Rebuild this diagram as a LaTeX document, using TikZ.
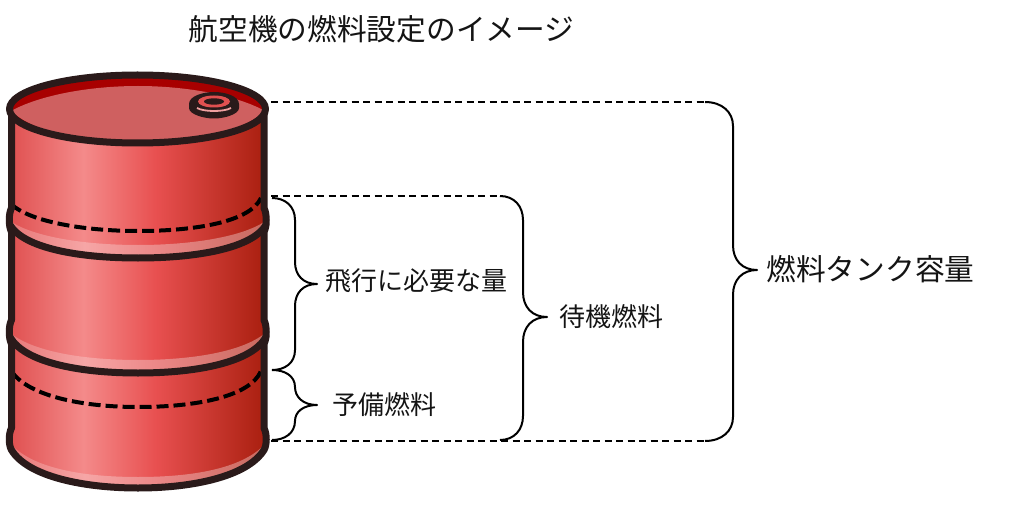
\documentclass[tikz,border=0pt]{standalone}
\usepackage{fontspec}
\newfontfamily\jpfont{Noto Sans CJK JP}
\definecolor{outl}{HTML}{2A1A1A}
\definecolor{facecol}{HTML}{CF6060}
\definecolor{crescent}{HTML}{A80000}
\definecolor{capring}{HTML}{E05050}
\definecolor{capstripe}{HTML}{F0A0A0}
\definecolor{bodyA}{HTML}{DF4F4F}
\definecolor{bodyB}{HTML}{F48A8A}
\definecolor{bodyC}{HTML}{E85050}
\definecolor{bodyD}{HTML}{A81E0E}
\definecolor{bandA}{HTML}{E87878}
\definecolor{bandB}{HTML}{F6A6A6}
\definecolor{bandC}{HTML}{EC8888}
\definecolor{bandD}{HTML}{C86A60}
\pgfdeclarehorizontalshading{barrelbody}{100bp}{
 color(0bp)=(bodyA); color(25bp)=(bodyA); color(39.5bp)=(bodyB);
 color(53.5bp)=(bodyC); color(75bp)=(bodyD); color(100bp)=(bodyD)}
\pgfdeclarehorizontalshading{barrelband}{100bp}{
 color(0bp)=(bandA); color(25bp)=(bandA); color(39.5bp)=(bandB);
 color(53.5bp)=(bandC); color(75bp)=(bandD); color(100bp)=(bandD)}
\tikzset{
 outline/.style={draw=outl,line width=7pt,line join=round,line cap=round},
 levelline/.style={draw=black,line width=4pt,dash pattern=on 12pt off 5pt},
 leader/.style={draw=black,line width=1.8pt,dash pattern=on 7pt off 4.5pt},
 bracepath/.style={draw=black,line width=2pt,line join=round},
 txt/.style={inner sep=0pt,text=black!92,font=\jpfont\fontsize{26}{30}\selectfont},
 bigtxt/.style={inner sep=0pt,text=black!92,font=\jpfont\fontsize{29.7}{34}\selectfont}
}
\begin{document}
\begin{tikzpicture}[x=1pt,y=-1pt]
\useasboundingbox (0,0) rectangle (1024,505);
% body
\path[shading=barrelbody] (11.5,108) -- (11.5,208) .. controls (8.5,214) and (8.5,226) .. (11.5,232)
 -- (11.5,320) .. controls (8.5,326) and (8.5,338) .. (11.5,344) -- (11.5,428)
 .. controls (8.5,434) and (8.5,445) .. (11.5,450) .. controls (28,477) and (85,488) .. (138,488)
 .. controls (191,488) and (247,477) .. (264,450) .. controls (267,445) and (267,434) .. (264,428)
 -- (264,344) .. controls (267,338) and (267,326) .. (264,320) -- (264,232)
 .. controls (267,226) and (267,214) .. (264,208) -- (264,108) -- cycle;
% highlight bands
\foreach \yy/\bt/\ym/\bv/\ybot in {222/245/228/253/258,334/360/340/368/373,445/477/450/476/487}{
 \pgfmathsetmacro{\bu}{\bt-8}
 \path[shading=barrelband] (11.5,\yy) .. controls (35,\bu) and (85,\bt) .. (138,\bt)
  .. controls (191,\bt) and (241,\bu) .. (264,\yy) -- (264,\ym)
  .. controls (247,\bv) and (191,\ybot) .. (138,\ybot)
  .. controls (85,\ybot) and (28,\bv) .. (11.5,\ym) -- cycle;
}
% level lines
\draw[levelline] (11,204) .. controls (30,222) and (85,231) .. (138,231)
 .. controls (195,231) and (250,222) .. (261,198);
\draw[levelline] (12,372) .. controls (30,397) and (85,407) .. (138,407)
 .. controls (195,407) and (250,397) .. (261,371);
% silhouette and ribs
\draw[outline] (11.5,108) -- (11.5,208) .. controls (8.5,214) and (8.5,226) .. (11.5,232)
 -- (11.5,320) .. controls (8.5,326) and (8.5,338) .. (11.5,344) -- (11.5,428)
 .. controls (8.5,434) and (8.5,445) .. (11.5,450) .. controls (28,477) and (85,488) .. (138,488)
 .. controls (191,488) and (247,477) .. (264,450) .. controls (267,445) and (267,434) .. (264,428)
 -- (264,344) .. controls (267,338) and (267,326) .. (264,320) -- (264,232)
 .. controls (267,226) and (267,214) .. (264,208) -- (264,108);
\draw[outline] (10,225) .. controls (24,248) and (78,258) .. (138,258)
 .. controls (198,258) and (252,248) .. (266,225);
\draw[outline] (10,337) .. controls (24,362) and (78,373) .. (138,373)
 .. controls (198,373) and (252,362) .. (266,337);
% top
\fill[crescent] (137.5,109) ellipse [x radius=128,y radius=33];
\fill[facecol] (11,111) .. controls (40,95) and (90,86) .. (138,86)
 .. controls (186,86) and (236,95) .. (265,111)
 .. controls (240,134) and (186,143) .. (138,143) .. controls (90,143) and (36,134) .. (11,111) -- cycle;
\draw[outline] (137.5,109) ellipse [x radius=128,y radius=34];
% cap
\fill[outl] (189,104) .. controls (189,96) and (203,92) .. (214,92) .. controls (225,92) and (239,96) .. (239,104)
 -- (239,108) .. controls (239,114) and (225,118.5) .. (214,118.5) .. controls (203,118.5) and (189,114) .. (189,108) -- cycle;
\fill[capring] (214,101.5) ellipse [x radius=16,y radius=6];
\fill[outl] (214,101.5) ellipse [x radius=10,y radius=3.2];
\draw[capstripe,line width=1.8pt] (197,108) .. controls (204,112) and (224,112) .. (231,108);
% free ends of the connectors
\coordinate (bigtop) at (271,102);
\coordinate (bigbrA) at (705,102);
\coordinate (bigbot) at (271,441);
\coordinate (bigbrB) at (705,441);
\coordinate (midtop) at (271,196);
\coordinate (midbrA) at (500,196);
\coordinate (midbrB) at (500,440);
\draw[leader] (bigtop) -- (bigbrA);
\draw[leader] (bigbot) -- (bigbrB);
\draw[leader] (midtop) -- (midbrA);
% braces
\coordinate (bigtip) at (757,270);
\draw[bracepath] (bigbrA) .. controls (722,102) and (733,112) .. (733,126) -- (733,245)
 .. controls (733,260) and (742,270) .. (bigtip) .. controls (742,270) and (733,280) .. (733,295)
 -- (733,417) .. controls (733,431) and (722,441) .. (bigbrB);
\coordinate (midtip) at (547,317);
\draw[bracepath] (midbrA) .. controls (514,196) and (523,206) .. (523,220) -- (523,292)
 .. controls (523,307) and (532,317) .. (midtip) .. controls (532,317) and (523,327) .. (523,342)
 -- (523,416) .. controls (523,430) and (514,440) .. (midbrB);
\coordinate (flytop) at (272,198);
\coordinate (flytip) at (317,284);
\coordinate (flybot) at (272,370);
\coordinate (restip) at (317,405);
\coordinate (resbot) at (272,440);
\draw[bracepath] (flytop) .. controls (285,198) and (295,206) .. (295,220) -- (295,262)
 .. controls (295,275) and (303,284) .. (flytip) .. controls (303,284) and (295,293) .. (295,306)
 -- (295,350) .. controls (295,363) and (285,370) .. (flybot);
\draw[bracepath] (flybot) .. controls (285,370) and (295,376) .. (295,387)
 .. controls (295,397) and (303,405) .. (restip) .. controls (303,405) and (295,412) .. (295,421)
 .. controls (295,433) and (285,440) .. (resbot);
% labels
\node[bigtxt,anchor=center] (title) at (381.5,29) {航空機の燃料設定のイメージ};
\node[bigtxt,anchor=center] (cap) at (870.5,269) {燃料タンク容量};
\node[txt,anchor=center] (fly) at (416,281) {飛行に必要な量};
\node[txt,anchor=center] (res) at (384,405) {予備燃料};
\node[txt,anchor=center] (standby) at (611,317) {待機燃料};
\end{tikzpicture}
\end{document}
